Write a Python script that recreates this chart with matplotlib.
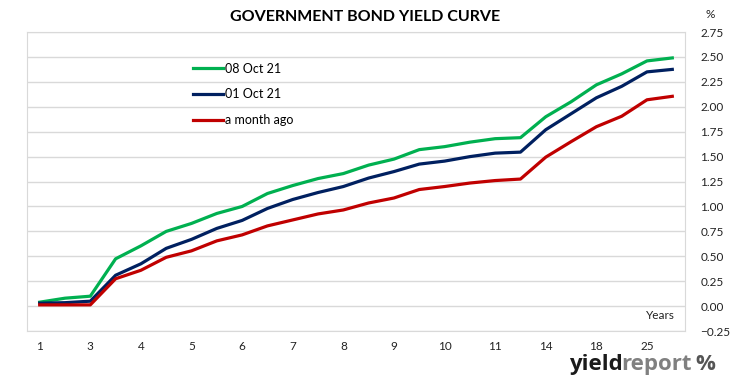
import numpy as np
import matplotlib
matplotlib.use("Agg")
import matplotlib.pyplot as plt

# tick labels shown on every other maturity point
tick_labels = ["1", "3", "4", "5", "6", "7", "8", "9", "10", "11", "14", "18", "25"]

oct08 = [0.04, 0.08, 0.10, 0.475, 0.605, 0.75, 0.83, 0.93, 1.00, 1.13, 1.21, 1.28, 1.33,
         1.415, 1.475, 1.57, 1.60, 1.645, 1.68, 1.69, 1.90, 2.05, 2.22, 2.33, 2.46, 2.49]
oct01 = [0.03, 0.035, 0.05, 0.31, 0.425, 0.58, 0.67, 0.78, 0.86, 0.98, 1.07, 1.14, 1.20,
         1.285, 1.35, 1.425, 1.455, 1.50, 1.535, 1.545, 1.77, 1.93, 2.09, 2.205, 2.35, 2.375]
month_ago = [0.013, 0.013, 0.013, 0.275, 0.36, 0.49, 0.555, 0.655, 0.715, 0.805, 0.865, 0.925, 0.965,
             1.035, 1.085, 1.17, 1.20, 1.235, 1.26, 1.275, 1.495, 1.65, 1.80, 1.905, 2.07, 2.105]

plt.rcParams["font.family"] = ["Lato", "DejaVu Sans"]

fig = plt.figure(figsize=(7.31, 3.81), dpi=100)
ax = fig.add_axes([0.037, 0.131, 0.900, 0.785])

x = np.arange(len(oct08))
ax.plot(x, oct08, color="#00b050", lw=2.3, label="08 Oct 21")
ax.plot(x, oct01, color="#002060", lw=2.3, label="01 Oct 21")
ax.plot(x, month_ago, color="#c00000", lw=2.3, label="a month ago")

ax.set_xlim(-0.5, len(oct08) - 0.5)
ax.set_ylim(-0.25, 2.75)
ax.set_xticks(x[::2])
ax.set_xticklabels(tick_labels)
ax.set_yticks(np.arange(-0.25, 2.76, 0.25))
ax.yaxis.tick_right()
ax.tick_params(axis="both", length=0, labelsize=8.5, colors="#222222")
ax.tick_params(axis="y", pad=11)
ax.tick_params(axis="x", pad=7)
ax.grid(axis="y", color="#d9d9d9", lw=1)
ax.set_axisbelow(True)
for s in ax.spines.values():
    s.set_color("#d9d9d9")

ax.text(0.985, 0.035, "Years", transform=ax.transAxes, ha="right", va="bottom",
        fontsize=8.5, color="#222222")

ax.legend(loc="upper left", bbox_to_anchor=(0.235, 0.935), frameon=False, fontsize=9,
          handlelength=2.4, handletextpad=0.2, labelspacing=1.1)

fig.text(0.5, 0.955, "GOVERNMENT BOND YIELD CURVE", ha="center", va="center",
         fontsize=11.5, fontweight="bold", color="black")
fig.text(0.971, 0.962, "%", ha="center", va="center", fontsize=8.5, color="#222222")

# logo: pieces placed one after another
fig.canvas.draw()
renderer = fig.canvas.get_renderer()
xpos = 0.778
for word, col, gap in [("yield", "#1a1a1a", -0.002), ("report", "#808080", 0.005), ("%", "#555555", 0)]:
    t = fig.text(xpos, 0.043, word, ha="left", va="center", fontsize=16,
                 fontweight="bold", color=col, family=["Open Sans", "DejaVu Sans"])
    bb = t.get_window_extent(renderer)
    xpos += bb.width / fig.bbox.width + gap

fig.savefig("out.png", dpi=100)
